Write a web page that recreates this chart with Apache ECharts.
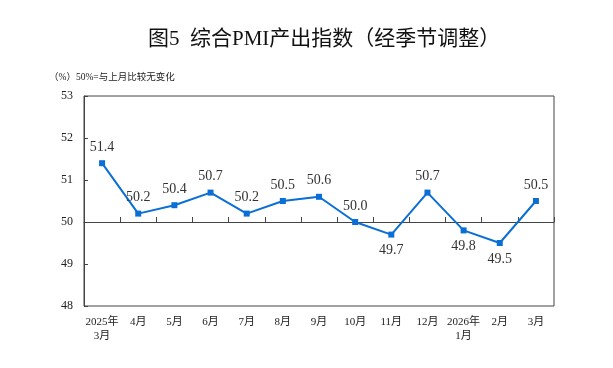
<!DOCTYPE html>
<html><head><meta charset="utf-8">
<script src="https://cdn.jsdelivr.net/npm/echarts@6/dist/echarts.min.js"></script>
<style>html,body{margin:0;padding:0;background:#fff}#c{width:613px;height:368px}</style>
</head><body><div id="c"></div>
<script>
const categories = ['2025年\n3月','4月','5月','6月','7月','8月','9月','10月','11月','12月','2026年\n1月','2月','3月'];
const values = [51.4,50.2,50.4,50.7,50.2,50.5,50.6,50.0,49.7,50.7,49.8,49.5,50.5];
const labelPos = ['top','top','top','top','top','top','top','top','bottom','top','bottom','bottom','top'];
const yMin = 48, yMax = 53;

const serif = '"Liberation Serif","DejaVu Serif","Noto Sans CJK SC",serif';
const chart = echarts.init(document.getElementById('c'), null, {renderer:'canvas'});
const gridTop = 96, gridBottom = 62, gridH = 368 - gridTop - gridBottom;
const zeroOffset = -(50 - yMin) / (yMax - yMin) * gridH;
chart.setOption({
  animation:false,
  title:[
    {text:'图5  综合PMI产出指数（经季节调整）', left:143, top:24,
     textStyle:{fontFamily:'"Liberation Serif","Noto Sans CJK SC",serif', fontSize:21, fontWeight:'normal', color:'#111'}},
    {text:'（%）50%=与上月比较无变化', left:44, top:68,
     textStyle:{fontFamily:serif, fontSize:9.5, fontWeight:'normal', color:'#222'}}
  ],
  grid:{left:84, right:59, top:gridTop, bottom:gridBottom, show:true, borderColor:'#444', borderWidth:1, backgroundColor:'transparent'},
  xAxis:[
    {type:'category', data:categories, boundaryGap:true,
     axisLine:{show:false}, axisTick:{show:false},
     axisLabel:{fontFamily:serif, fontSize:11, color:'#222', margin:9, lineHeight:14, interval:0}},
    {type:'category', data:categories, boundaryGap:true, position:'bottom', offset:zeroOffset,
     axisLine:{show:true, lineStyle:{color:'#444', width:1}},
     axisTick:{show:true, inside:true, length:5, lineStyle:{color:'#444'}, interval:0},
     axisLabel:{show:false}}
  ],
  yAxis:{type:'value', min:yMin, max:yMax, interval:1,
    axisLine:{show:true, lineStyle:{color:'#444'}},
    axisTick:{show:true, inside:true, length:4, lineStyle:{color:'#444'}},
    splitLine:{show:false},
    axisLabel:{fontFamily:serif, fontSize:12, color:'#222', margin:11}},
  series:[{
    type:'line', xAxisIndex:0, data:values.map((v,i)=>({value:v, label:{position:labelPos[i]}})),
    symbol:'rect', symbolSize:6,
    lineStyle:{color:'#0a6fd4', width:2},
    itemStyle:{color:'#0a6fd4'},
    label:{show:true, fontFamily:serif, fontSize:14, color:'#333', distance:6,
      formatter:p=>p.value.toFixed(1)}
  }]
});
</script></body></html>
